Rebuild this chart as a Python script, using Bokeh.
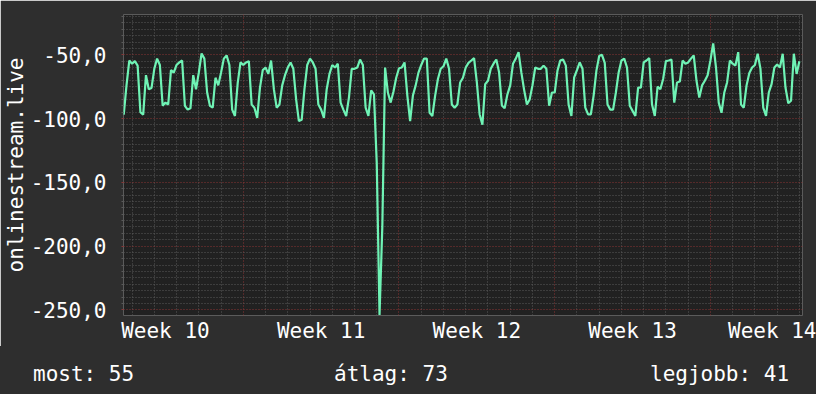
from bokeh.plotting import figure
from bokeh.layouts import column
from bokeh.models import FixedTicker, Range1d, Div
from bokeh.embed import file_html
from bokeh.resources import INLINE

# ---- data ----
# days are counted from the start of week 10; one sample every 3 hours
start_day = 1.625
step_day = 0.125
values = [
    -97, -74, -54.5, -57, -55, -58.5, -95, -97, -66, -77,
    -76, -61, -53, -58, -90, -87.5, -89, -62, -64, -58,
    -56, -54.5, -90, -93, -92, -66, -77, -64, -49, -53,
    -79.6, -90, -91.5, -68, -74, -64, -53, -50.5, -58, -93,
    -98, -72, -56, -58, -56, -55, -89, -91.5, -99.5, -75.7,
    -62, -60, -65, -54.5, -77, -91.5, -89, -74, -66, -60,
    -56, -61, -85, -102, -101, -77, -58, -53, -56, -61,
    -89, -93, -99.5, -77, -65, -58, -60, -57, -87.5, -93,
    -98, -83.6, -61, -61, -60, -53.7, -58, -91.5, -98, -78,
    -81, -135, -254, -185, -60, -79.6, -87.5, -79, -68, -60.6,
    -60, -56, -82, -102, -82, -74, -64, -58, -53, -53,
    -95.5, -98, -82, -69, -61, -59, -53, -61, -89, -91.5,
    -89, -71.7, -68, -60, -56.3, -54.5, -52.6, -71.7, -96.8, -104.8,
    -73, -70.4, -61, -57, -53.7, -63.8, -89.7, -92, -81, -74,
    -57, -53, -47.9, -63.8, -77.5, -89, -85, -74, -60, -61,
    -61, -58.5, -61, -90, -79.6, -79.6, -62.4, -54.5, -53.7, -58.5,
    -89, -98, -67.7, -62, -56, -61, -91.5, -96.8, -96.8, -82,
    -62.4, -51, -50, -56.3, -89, -93, -93, -79.6, -63.8, -54.5,
    -53, -60, -90, -94, -98, -75.7, -75.7, -56, -54.5, -52.6,
    -89, -98, -75, -77, -69, -55, -54.5, -53.7, -87.5, -71.7,
    -71, -54.5, -57, -56, -53, -50.5, -70.4, -83.6, -74, -70.4,
    -66, -54.5, -41, -59.8, -87.5, -95.5, -79.6, -71.7, -54.5, -57,
    -58.5, -47.9, -89, -91.5, -74, -64.3, -60, -58, -49.2, -61,
    -91.5, -98, -79.6, -73, -60, -57.7, -60, -49.2, -75.7, -88,
    -86, -49.2, -65, -55,
]
week_numbers = [10, 11, 12, 13, 14]
week_labels = ["Week 10", "Week 11", "Week 12", "Week 13", "Week 14"]
y_ticks = [-250, -200, -150, -100, -50]
y_tick_labels = ["-250,0", "-200,0", "-150,0", "-100,0", "-50,0"]
axis_title = "onlinestream.live"
summary_names = ["most", "átlag", "legjobb"]
summary_values = [55, 73, 41]

# ---- styling ----
BG = "#2e2e2e"
PLOT_BG = "#212121"
LINE = "#6ff3b5"
MAJOR = "#8a3535"
MINOR = "#5a5a5a"
TXT = "#ffffff"
FONT = "DejaVu Sans Mono"
FS = "21px"

x0, x1 = 1.615, 32.14
y0, y1 = -254.5, -18.4
W = 816
ML, MR, MT, MB = 116, 14, 14, 31
H1 = MT + 301 + MB
H2 = 394 - H1

xs = [start_day + step_day * i for i in range(len(values))]

p = figure(width=W, height=H1, output_backend="svg", toolbar_location=None,
           x_range=Range1d(x0, x1), y_range=Range1d(y0, y1),
           min_border_left=ML, min_border_right=MR, min_border_top=MT, min_border_bottom=MB,
           background_fill_color=PLOT_BG, border_fill_color=BG, outline_line_color=None)

# grids
week_bounds = [7 * k for k in range(1, 5)]
day_lines = [d for d in range(2, 33) if d % 7]
p.xgrid.ticker = FixedTicker(ticks=week_bounds, minor_ticks=day_lines)
p.xgrid.grid_line_color = MAJOR
p.xgrid.grid_line_dash = "1 2"
p.xgrid.minor_grid_line_color = MINOR
p.xgrid.minor_grid_line_dash = "1 2"

y_minor = [m for m in range(-255, -15, 5) if m % 50]
p.ygrid.ticker = FixedTicker(ticks=y_ticks, minor_ticks=y_minor)
p.ygrid.grid_line_color = MAJOR
p.ygrid.grid_line_dash = "1 2"
p.ygrid.minor_grid_line_color = MINOR
p.ygrid.minor_grid_line_dash = "1 2"

# y axis
ya = p.yaxis[0]
ya.ticker = FixedTicker(ticks=y_ticks, minor_ticks=y_minor)
ya.major_label_overrides = dict(zip(y_ticks, y_tick_labels))
ya.major_label_text_font = FONT
ya.major_label_text_font_size = FS
ya.major_label_text_color = TXT
ya.major_label_standoff = 15
ya.major_tick_in = 0
ya.major_tick_out = 2
ya.major_tick_line_color = MAJOR
ya.minor_tick_in = 0
ya.minor_tick_out = 2
ya.minor_tick_line_color = MINOR
ya.axis_line_color = None
ya.axis_label = axis_title
ya.axis_label_text_font = FONT
ya.axis_label_text_font_size = FS
ya.axis_label_text_font_style = "normal"
ya.axis_label_text_color = TXT
ya.axis_label_standoff = 0

# x axis: labels centred in each week
xa = p.xaxis[0]
mids = [7 * k + 3.5 for k in range(len(week_numbers))]
xa.ticker = FixedTicker(ticks=mids, minor_ticks=[])
xa.major_label_overrides = dict(zip(mids, week_labels))
xa.major_label_text_font = FONT
xa.major_label_text_font_size = FS
xa.major_label_text_color = TXT
xa.major_label_standoff = -3
xa.major_tick_line_color = None
xa.minor_tick_line_color = None
xa.axis_line_color = None

p.line(xs, values, line_color=LINE, line_width=2.2)

# summary line below the chart (rrdtool GPRINT style)
lefts = [33, 334, 650]
spans = "".join(
    '<span style="position:absolute;left:%dpx;top:16px;white-space:pre;">%s: %d</span>'
    % (lx, n, v) for lx, n, v in zip(lefts, summary_names, summary_values))
summary = Div(
    text='<div style="position:relative;width:%dpx;height:%dpx;margin:0;padding:0;'
         'background:%s;color:%s;font-family:\'%s\';font-size:%s;line-height:normal;">%s</div>'
         % (W, H2, BG, TXT, FONT, FS, spans),
    width=W, height=H2, margin=0)

layout = column(p, summary, spacing=0)

html = file_html(layout, INLINE)
html = html.replace("<body>", '<body style="background-color:%s;">' % BG, 1)
open("out.html", "w").write(html)
